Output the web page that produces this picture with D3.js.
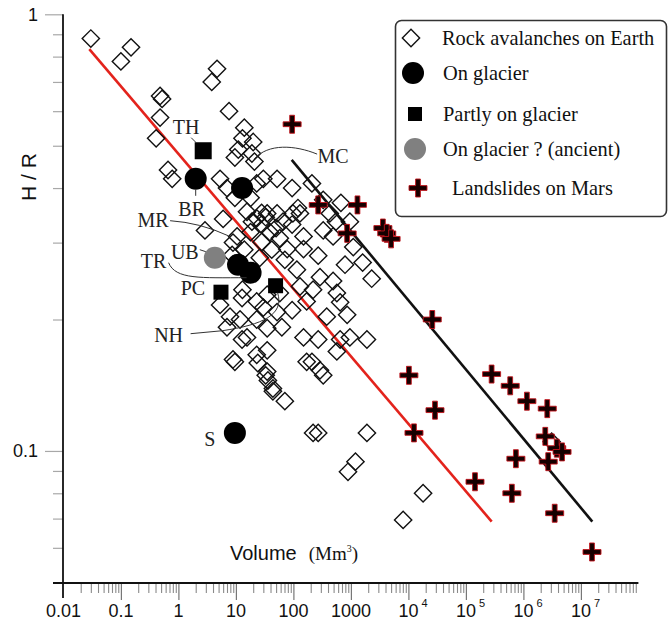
<!DOCTYPE html>
<html><head><meta charset="utf-8">
<script src="https://cdn.jsdelivr.net/npm/d3@7"></script>
<style>
html,body{margin:0;padding:0;background:#fff;}
svg{display:block;}
</style></head><body>
<svg id="chart" width="669" height="635"></svg>
<script>
// ---------------- DATA ----------------
const earthVolume = [0.030,0.15,0.10,4.7,3.8,0.48,0.52,7.6,0.48,14,0.41,13,20,11,9.6,19,21,0.66,0.78,5.3,30,52,7.0,95,9.6,18,120,670,6.0,2.9,98,95,330,23,10.5,8.9,19,35,52,130,490,150,78,150,270,115,290,490,570,220,130,170,95,58,35,23,13,12.8,5.3,7.9,11.8,30,23,52,63,35,15.6,7.0,8.9,23,35,170,290,35,36,44,150,270,650,960,860,380,650,1100,330,15.6,23,28,18,39,58,28,42,71,26,14,12.8,9.6,24,33,44,71,210,330,570,1900,220,270,1900,1200,890,18000,8100,3100000,210,430,960,1600,2300,790,8.6,550,28,33,66,50];
const earthHR = [0.88,0.84,0.78,0.75,0.70,0.65,0.64,0.60,0.58,0.55,0.52,0.52,0.51,0.49,0.47,0.48,0.46,0.44,0.42,0.42,0.42,0.42,0.40,0.40,0.38,0.38,0.36,0.37,0.34,0.32,0.35,0.33,0.32,0.41,0.31,0.30,0.335,0.35,0.35,0.35,0.31,0.31,0.29,0.29,0.28,0.26,0.25,0.245,0.23,0.234,0.238,0.22,0.21,0.23,0.228,0.22,0.234,0.224,0.216,0.203,0.20,0.213,0.20,0.208,0.192,0.191,0.182,0.192,0.162,0.166,0.17,0.16,0.153,0.152,0.145,0.137,0.182,0.18,0.18,0.182,0.205,0.203,0.219,0.293,0.376,0.353,0.341,0.33,0.317,0.317,0.307,0.301,0.289,0.274,0.277,0.289,0.18,0.16,0.159,0.149,0.139,0.13,0.16,0.149,0.169,0.18,0.110,0.110,0.110,0.0945,0.0896,0.080,0.0695,0.105,0.41,0.35,0.335,0.27,0.248,0.267,0.281,0.335,0.351,0.343,0.335,0.324];

const glacierVolume = [2.0, 12.8, 10.9, 18, 9.6];
const glacierHR     = [0.42, 0.40, 0.267, 0.256, 0.11];
const partlyVolume  = [2.7, 5.5, 49];
const partlyHR      = [0.487, 0.231, 0.239];
const ancientVolume = [4.3];
const ancientHR     = [0.277];

const marsVolume = [95,270,1300,860,3600,4200,5000,26000,10200,29000,12500,144000,280000,590000,1150000,2600000,2400000,3800000,4700000,2700000,740000,630000,3500000,15600000];
const marsHR     = [0.56,0.366,0.366,0.315,0.324,0.315,0.306,0.20,0.149,0.124,0.11,0.085,0.15,0.141,0.130,0.125,0.108,0.1015,0.0995,0.0945,0.096,0.080,0.072,0.0587];

const earthFitVolume = [0.0282, 2.81e5];
const earthFitHR     = [0.832, 0.0689];
const marsFitVolume  = [93.4, 1.58e7];
const marsFitHR      = [0.464, 0.0689];

const xMajorTicks = [0.01,0.1,1,10,100,1000,1e4,1e5,1e6,1e7];
const xTickBase   = ["0.01","0.1","1","10","100","1000","10","10","10","10"];
const xTickExp    = ["","","","","","","4","5","6","7"];
const yMajorTicks = [1, 0.1];
const yTickLabels = ["1","0.1"];
const legendLabels = ["Rock avalanches on Earth","On glacier","Partly on glacier","On glacier ? (ancient)","Landslides on Mars"];
const yTitle = "H / R";
const xTitle = "Volume";
const xUnit = "(Mm";

// ---------------- LAYOUT ----------------
const svg = d3.select("#chart");
const x = d3.scaleLog().domain([0.01, 1e8]).range([63.4, 638.4]);
const y = d3.scaleLog().domain([0.05, 1]).range([582.4, 14.3]);
const axisY = 583, axisX = 63;

const xMinor = [];
for (let e = -2; e < 8; e++) for (let m = 2; m <= 9; m++) xMinor.push(m * Math.pow(10, e));
const yMinor = [];
for (let m = 2; m <= 9; m++) yMinor.push(m / 10);
for (let m = 6; m <= 9; m++) yMinor.push(m / 100);

// y axis ticks
svg.append("g").attr("transform", `translate(${axisX},0)`)
  .call(d3.axisLeft(y).tickValues(yMinor).tickSize(10).tickSizeOuter(0).tickFormat(""))
  .call(g => { g.select(".domain").remove(); g.selectAll("line").attr("stroke", "#a8a8a8").attr("stroke-width", 1.2); });
svg.append("g").attr("transform", `translate(${axisX},0)`)
  .call(d3.axisLeft(y).tickValues(yMajorTicks).tickSize(18).tickPadding(7).tickSizeOuter(0)
        .tickFormat((d, i) => yTickLabels[i]))
  .call(g => {
    g.select(".domain").remove();
    g.selectAll("line").attr("stroke", "#a8a8a8").attr("stroke-width", 1.2);
    g.selectAll("text").attr("font-family", "Liberation Sans, Arial, sans-serif")
      .attr("font-size", 18).attr("fill", "#111");
  });

// x axis ticks
svg.append("g").attr("transform", `translate(0,${axisY})`)
  .call(d3.axisBottom(x).tickValues(xMinor).tickSize(10).tickSizeOuter(0).tickFormat(""))
  .call(g => { g.select(".domain").remove(); g.selectAll("line").attr("stroke", "#8a8a8a").attr("stroke-width", 1.1); });
svg.append("g").attr("transform", `translate(0,${axisY})`)
  .call(d3.axisBottom(x).tickValues(xMajorTicks.slice(1)).tickSize(17).tickSizeOuter(0).tickFormat(""))
  .call(g => { g.select(".domain").remove(); g.selectAll("line").attr("stroke", "#777").attr("stroke-width", 1.2); });

// x tick labels
const xl = svg.append("g").attr("font-family", "Liberation Sans, Arial, sans-serif").attr("fill", "#111");
xMajorTicks.forEach((v, i) => {
  const t = xl.append("text").attr("x", x(v)).attr("y", 617)
    .attr("font-size", 18).attr("text-anchor", xTickExp[i] ? "start" : "middle");
  t.append("tspan").text(xTickBase[i]);
  if (xTickExp[i]) {
    t.append("tspan").attr("font-size", 11).attr("dy", -10).attr("dx", 3).text(xTickExp[i]);
    t.attr("x", x(v) - 10);
  }
});

// axis lines
svg.append("line").attr("x1", axisX - 10).attr("x2", x(1e8)).attr("y1", axisY).attr("y2", axisY)
  .attr("stroke", "#111").attr("stroke-width", 1.8);
svg.append("line").attr("x1", axisX).attr("x2", axisX).attr("y1", y(1)).attr("y2", axisY + 15)
  .attr("stroke", "#111").attr("stroke-width", 1.8);

// axis titles
svg.append("text").attr("transform", "translate(29,177) rotate(-90)")
  .attr("text-anchor", "middle").attr("dy", "0.35em")
  .attr("font-family", "Liberation Sans, Arial, sans-serif").attr("font-size", 21).attr("fill", "#111")
  .text(yTitle);
const xt = svg.append("text").attr("x", 230).attr("y", 560).attr("fill", "#111");
xt.append("tspan").attr("font-family", "Liberation Sans, Arial, sans-serif").attr("font-size", 20).text(xTitle);
xt.append("tspan").attr("font-family", "Liberation Serif, Times New Roman, serif").attr("font-size", 19).attr("dx", 12).text(xUnit);
xt.append("tspan").attr("font-family", "Liberation Serif, Times New Roman, serif").attr("font-size", 10).attr("dy", -8).text("3");
xt.append("tspan").attr("font-family", "Liberation Serif, Times New Roman, serif").attr("font-size", 19).attr("dy", 8).text(")");

// regression lines
const line = d3.line().x(d => x(d[0])).y(d => y(d[1]));
svg.append("path").attr("d", line(d3.zip(earthFitVolume, earthFitHR)))
  .attr("stroke", "#e3231c").attr("stroke-width", 2.6).attr("fill", "none");
svg.append("path").attr("d", line(d3.zip(marsFitVolume, marsFitHR)))
  .attr("stroke", "#111").attr("stroke-width", 2.6).attr("fill", "none");

// symbols
const diamondPath = d3.symbol(d3.symbolSquare, 150)();
const L = 9, W = 2.4;
const plusPath = `M${-W},${-L}H${W}V${-W}H${L}V${W}H${W}V${L}H${-W}V${W}H${-L}V${-W}H${-W}Z`;

svg.append("g").selectAll("path").data(d3.zip(earthVolume, earthHR)).join("path")
  .attr("d", diamondPath)
  .attr("transform", d => `translate(${x(d[0])},${y(d[1])}) rotate(45)`)
  .attr("fill", "none").attr("stroke", "#111").attr("stroke-width", 1.4);

svg.append("g").selectAll("path").data(d3.zip(marsVolume, marsHR)).join("path")
  .attr("d", plusPath)
  .attr("transform", d => `translate(${x(d[0])},${y(d[1])})`)
  .attr("fill", "#150000").attr("stroke", "#c4141c").attr("stroke-width", 0.9);

svg.append("g").selectAll("circle").data(d3.zip(glacierVolume, glacierHR)).join("circle")
  .attr("cx", d => x(d[0])).attr("cy", d => y(d[1])).attr("r", 11).attr("fill", "#000");
svg.append("g").selectAll("circle").data(d3.zip(ancientVolume, ancientHR)).join("circle")
  .attr("cx", d => x(d[0])).attr("cy", d => y(d[1])).attr("r", 11).attr("fill", "#808080");
const sqSizes = [17, 15, 15];
svg.append("g").selectAll("rect").data(d3.zip(partlyVolume, partlyHR)).join("rect")
  .attr("x", (d, i) => x(d[0]) - sqSizes[i] / 2).attr("y", (d, i) => y(d[1]) - sqSizes[i] / 2)
  .attr("width", (d, i) => sqSizes[i]).attr("height", (d, i) => sqSizes[i]).attr("fill", "#000");

// site labels with leader lines
const P = (vol, hr) => [x(vol), y(hr)];
const TH = P(partlyVolume[0], partlyHR[0]);
const PC = P(partlyVolume[1], partlyHR[1]);
const NH = P(partlyVolume[2], partlyHR[2]);
const BR = P(glacierVolume[0], glacierHR[0]);
const MCa = P(glacierVolume[1], glacierHR[1]);
const MRa = P(glacierVolume[2], glacierHR[2]);
const TRa = P(glacierVolume[3], glacierHR[3]);
const S = P(glacierVolume[4], glacierHR[4]);
const UB = P(ancientVolume[0], ancientHR[0]);

const lead = svg.append("g").attr("fill", "none").attr("stroke", "#333").attr("stroke-width", 1);
function pathFrom(a, cmd) {
  return cmd.map(c => c[0] + c.slice(1).map((v, k) => (v + (k % 2 ? a[1] : a[0])).toFixed(1)).join(" ")).join("");
}
lead.append("path").attr("d", pathFrom(TH, [["M", -12, -13], ["L", -7, -8]]));
lead.append("path").attr("d", pathFrom(BR, [["M", 0, 11], ["L", 0, 17]]));
lead.append("path").attr("d", pathFrom(MRa, [["M", -68, -44], ["Q", -38, -42, -10, -29]]));
lead.append("path").attr("d", pathFrom(UB, [["M", -15, -8], ["L", -9, -6]]));
lead.append("path").attr("d", pathFrom(TRa, [["M", -82, -10], ["C", -75, 7, -50, 5, -4, 5]]));
lead.append("path").attr("d", pathFrom(NH, [["M", -85, 48], ["L", -53, 45], ["C", -13, 39, 9, 29, 2, 7]]));
lead.append("path").attr("d", pathFrom(MCa, [["M", 75, -34], ["C", 53, -43, 26, -45, 12, -29]]));

const labs = [["TH", TH, -17, -24], ["BR", BR, -4, 30], ["MR", MRa, -85, -45], ["UB", UB, -30, -6],
              ["TR", TRa, -97, -12], ["PC", PC, -28, -4], ["NH", NH, -107, 49], ["MC", MCa, 91, -32], ["S", S, -25, 6]];
svg.append("g").selectAll("text").data(labs).join("text")
  .attr("x", d => d[1][0] + d[2]).attr("y", d => d[1][1] + d[3]).attr("dy", "0.35em")
  .attr("text-anchor", "middle").attr("font-family", "Liberation Serif, Times New Roman, serif")
  .attr("font-size", 20).attr("fill", "#222").text(d => d[0]);

// legend
const lg = svg.append("g");
lg.append("rect").attr("x", 395.5).attr("y", 20.5).attr("width", 271).attr("height", 196).attr("rx", 6)
  .attr("fill", "#fff").attr("stroke", "#333").attr("stroke-width", 1.6);
const ly = [38, 73, 114, 149, 188];
lg.append("path").attr("d", diamondPath).attr("transform", `translate(411,${ly[0]}) rotate(45)`)
  .attr("fill", "none").attr("stroke", "#111").attr("stroke-width", 1.4);
lg.append("circle").attr("cx", 413).attr("cy", ly[1]).attr("r", 11).attr("fill", "#000");
lg.append("rect").attr("x", 408).attr("y", ly[2] - 7).attr("width", 14).attr("height", 14).attr("fill", "#000");
lg.append("circle").attr("cx", 415).attr("cy", ly[3]).attr("r", 11).attr("fill", "#808080");
lg.append("path").attr("d", plusPath).attr("transform", `translate(418,${ly[4]})`)
  .attr("fill", "#150000").attr("stroke", "#c4141c").attr("stroke-width", 0.9);
const lx = [442, 443, 443, 443, 452];
lg.selectAll("text").data(legendLabels).join("text")
  .attr("x", (d, i) => lx[i]).attr("y", (d, i) => ly[i]).attr("dy", "0.33em")
  .attr("font-family", "Liberation Serif, Times New Roman, serif").attr("font-size", 20.4).attr("fill", "#111")
  .text(d => d);
</script>
</body></html>
